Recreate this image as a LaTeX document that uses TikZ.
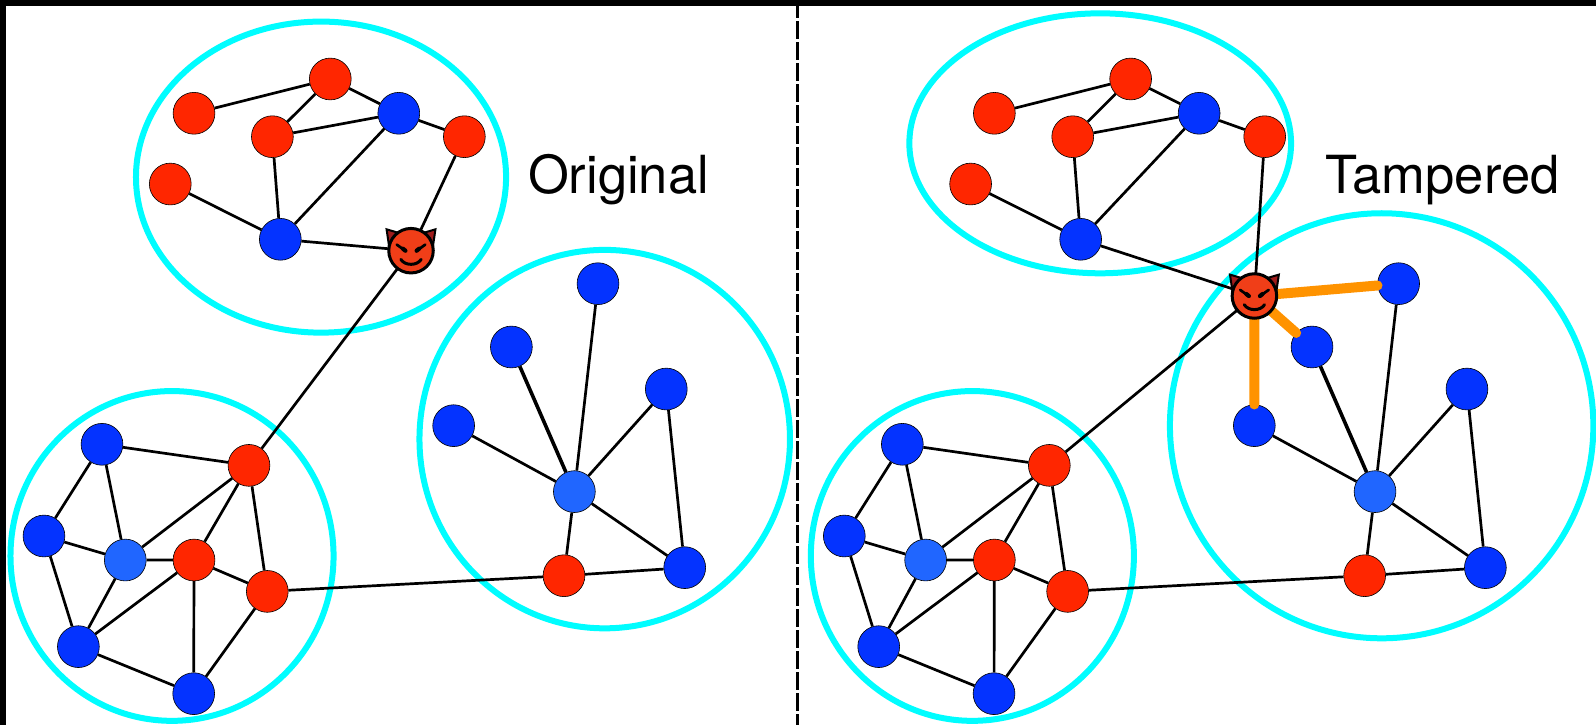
\documentclass[tikz,border=0pt]{standalone}
\usepackage{fontspec}
\setmainfont{TeX Gyre Heros}
\definecolor{nred}{HTML}{FF2600}
\definecolor{nblue}{HTML}{0433FF}
\definecolor{nlight}{HTML}{2066FF}
\definecolor{ringc}{HTML}{00FDFF}
\definecolor{tamper}{HTML}{FF9300}
\definecolor{devilface}{HTML}{F03E18}
\definecolor{devilhorn}{HTML}{A01C1C}
\tikzset{
  gnode/.style={circle,draw=black,line width=0.6pt,minimum size=41.8pt,inner sep=0pt},
  rednode/.style={gnode,fill=nred},
  bluenode/.style={gnode,fill=nblue},
  lightnode/.style={gnode,fill=nlight},
  link/.style={draw=black,line width=2.7pt},
  thicklink/.style={draw=black,line width=3.6pt},
  ring/.style={draw=ringc,line width=6pt},
  tamperlink/.style={draw=tamper,line width=10pt,line cap=round},
  caption/.style={font=\fontsize{52.5}{60}\selectfont,text=black,inner sep=0pt,anchor=base},
  devilpic/.pic={
    \foreach \s in {-1,1}{
      \draw[fill=devilhorn,line width=2pt,line join=miter] (\s*24,-21) -- (\s*7,-16) -- (\s*21.5,-4) -- cycle;
    }
    \node[circle,draw=black,line width=3pt,fill=devilface,minimum size=44.5pt,inner sep=0pt] (-face) at (0,0) {};
    \foreach \s in {-1,1}{
      \draw[line width=2.7pt,line cap=round] (\s*14,-6) -- (\s*5,0.5);
      \draw[line width=4.2pt,line cap=round] (\s*8,-2) -- (\s*5.5,0);
    }
    \draw[line width=3pt,line cap=round] (-10,8.5) .. controls (-6,15) and (6,15) .. (10,8.5);
  }
}
\newcommand{\clustertop}{%
  \node[rednode] (a1) at (190.6,111.3) {};
  \node[rednode] (a2) at (324.5,77.6) {};
  \node[rednode] (a3) at (267.6,134.3) {};
  \node[bluenode] (a4) at (391.8,111.3) {};
  \node[rednode] (a5) at (456.2,134.3) {};
  \node[rednode] (a6) at (167.3,180.8) {};
  \node[bluenode] (a7) at (275.4,235.1) {};
  \draw[link] (a1)--(a2) (a2)--(a3) (a2)--(a4) (a3)--(a4) (a3)--(a7) (a4)--(a7) (a4)--(a5) (a6)--(a7);
}
\newcommand{\clusterbot}{%
  \node[bluenode] (b1) at (100.2,436.5) {};
  \node[rednode] (b2) at (244.6,457.2) {};
  \node[bluenode] (b3) at (43.2,526.6) {};
  \node[lightnode] (b4) at (123.1,550.2) {};
  \node[rednode] (b5) at (190.6,550.2) {};
  \node[rednode] (b6) at (262.6,581) {};
  \node[bluenode] (b7) at (77,635.3) {};
  \node[bluenode] (b8) at (190.3,681.5) {};
  \draw[link] (b1)--(b2) (b1)--(b3) (b1)--(b4) (b2)--(b4) (b2)--(b5) (b2)--(b6) (b3)--(b4) (b3)--(b7)
    (b4)--(b5) (b4)--(b7) (b5)--(b6) (b5)--(b7) (b5)--(b8) (b6)--(b8) (b7)--(b8);
}
\newcommand{\clusterstar}{%
  \node[bluenode] (c1) at (587.5,278.7) {};
  \node[bluenode] (c2) at (502.4,340.9) {};
  \node[bluenode] (c3) at (654.6,382.2) {};
  \node[bluenode] (c4) at (445.7,418.2) {};
  \node[lightnode] (c5) at (564.3,483) {};
  \node[rednode] (c6) at (554.1,565.6) {};
  \node[bluenode] (c7) at (672.7,557.7) {};
  \draw[link] (c1)--(c5) (c3)--(c5) (c4)--(c5) (c3)--(c7) (c5)--(c6) (c5)--(c7) (c6)--(c7);
  \draw[thicklink] (c2)--(c5);
}
\begin{document}
\begin{tikzpicture}[x=1.01786pt,y=-1.01786pt]
\useasboundingbox (0,0) rectangle (1568,712.3);
\fill[white] (0,0) rectangle (1568,712.3);
\fill[black] (0,0) rectangle (1568,5.6);
\fill[black] (0,0) rectangle (5.6,712.3);
\coordinate (dashtop) at (783.3,0);
\coordinate (dashbot) at (783.3,712.3);
\draw[line width=3pt,dash pattern=on 18pt off 3pt] (dashtop) -- (dashbot);
% rings
\draw[ring] (315.4,174) ellipse (181.8 and 152.8);
\draw[ring] (169,546.2) ellipse (158.7 and 162);
\draw[ring] (594.1,431.4) ellipse (182 and 185.9);
\draw[ring] (1080.9,140.8) ellipse (187.5 and 127.7);
\draw[ring] (955.3,546.2) ellipse (158.7 and 162);
\draw[ring] (1357.4,418.3) ellipse (208 and 208.8);
% left graph
\begin{scope}[name prefix=L]
\clustertop
\clusterbot
\clusterstar
\coordinate (d) at (403.8,246.3);
\draw[link] (a5)--(d) (a7)--(d) (d)--(b2) (b6)--(c6);
\pic (devil) at (d) {devilpic};
\end{scope}
% right graph
\begin{scope}[name prefix=R]
\begin{scope}[xshift=786.3*1.01786pt]
\clustertop
\clusterbot
\end{scope}
\begin{scope}[xshift=786.6*1.01786pt]
\clusterstar
\end{scope}
\coordinate (d) at (1232.4,290.8);
\draw[link] (a5)--(d) (a7)--(d) (d)--(b2) (b6)--(c6);
\draw[tamperlink] (d)--(c1) (d)--(c2) (d)--(c4);
\pic (devil) at (d) {devilpic};
\end{scope}
\node[caption] (orig) at (607.6,190.5) {Original};
\node[caption] (tamp) at (1417.2,190.5) {Tampered};
\end{tikzpicture}
\end{document}
